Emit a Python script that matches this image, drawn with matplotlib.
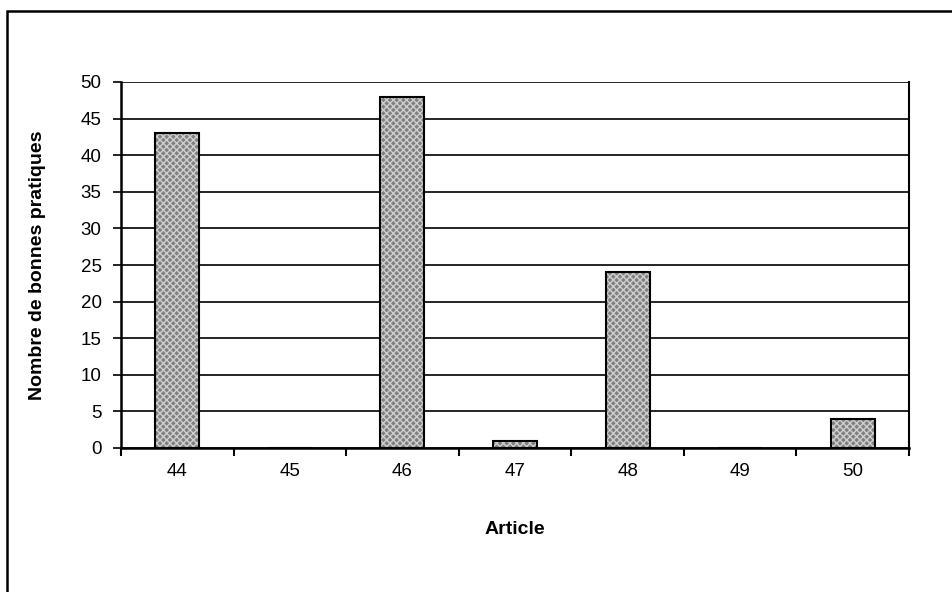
import matplotlib
matplotlib.use("Agg")
import matplotlib.pyplot as plt
from matplotlib.patches import Rectangle
import numpy as np

categories = ["44", "45", "46", "47", "48", "49", "50"]
values = [43, 0, 48, 1, 24, 0, 4]
yticks = [0, 5, 10, 15, 20, 25, 30, 35, 40, 45, 50]

plt.rcParams['font.family'] = ['Liberation Sans', 'DejaVu Sans']

W, H = 953, 592
fig = plt.figure(figsize=(W/100, H/100), dpi=100)
ax = fig.add_axes([121/W, 1 - 448/H, (909-121)/W, (448-82)/H])

x = np.arange(len(categories))
ax.bar(x, values, width=0.39, color='#808080', edgecolor='#cfcfcf', hatch='xxxxx', linewidth=0, zorder=3)
ax.bar(x, values, width=0.39, fill=False, edgecolor='black', linewidth=1.5, zorder=4)

ax.set_xlim(-0.5, len(categories) - 0.5)
ax.set_ylim(0, 50)
ax.set_yticks(yticks)
ax.set_yticklabels([str(t) for t in yticks], fontsize=13.5)
ax.set_xticks(x)
ax.set_xticklabels(categories, fontsize=13.5)
ax.set_xticks(np.arange(len(categories) + 1) - 0.5, minor=True)
ax.tick_params(axis='x', which='major', length=0, pad=11)
ax.tick_params(axis='x', which='minor', length=6, width=1.5, direction='out')
ax.tick_params(axis='y', length=6, width=1.2, direction='out', pad=8)

for t in yticks:
    ax.axhline(t, color='black', linewidth=1.2, zorder=1)

for s in ['left', 'bottom']:
    ax.spines[s].set_linewidth(1.8)
ax.spines['right'].set_linewidth(1.5)
ax.spines['top'].set_visible(False)

ax.set_xlabel("Article", fontsize=14, fontweight='bold')
ax.xaxis.set_label_coords(0.5, -(530 - 448) / (448 - 82), transform=ax.transAxes)
ax.xaxis.label.set_va('center')
ax.set_ylabel("Nombre de bonnes pratiques", fontsize=14, fontweight='bold')
ax.yaxis.set_label_coords(-(121 - 38) / (909 - 121), 0.5, transform=ax.transAxes)
ax.yaxis.label.set_va('center')

fig.add_artist(Rectangle((7.5/W, -0.1), 1.2, 1.1 - 10.5/H, transform=fig.transFigure,
                         fill=False, edgecolor='black', linewidth=1.8))

fig.savefig("out.png", dpi=100)
